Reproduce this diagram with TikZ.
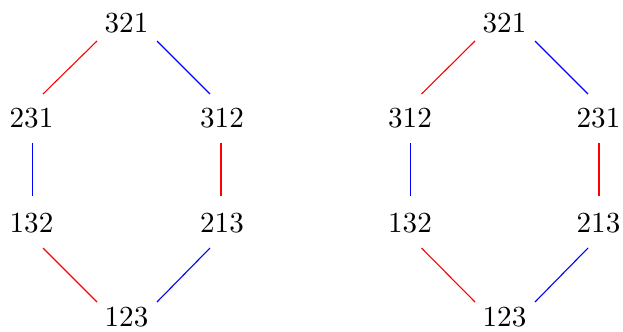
\documentclass[tikz,border=0pt]{standalone}
\usetikzlibrary{calc}
\begin{document}
\begin{tikzpicture}[x=1bp,y=-1bp,
  lbl/.style={inner sep=0pt, font=\fontsize{10}{12}\selectfont, scale=2.92},
  redge/.style={draw=red, line width=1.1bp},
  bedge/.style={draw=blue, line width=1.1bp}]
\useasboundingbox (0,0) rectangle (623,331);

% left hexagon
\node[lbl] (a321) at (126.5,23.5) {321};
\node[lbl] (a231) at (31.5,118) {231};
\node[lbl] (a312) at (222,118) {312};
\node[lbl] (a132) at (31.5,223) {132};
\node[lbl] (a213) at (222,223) {213};
\node[lbl] (a123) at (126.5,317.5) {123};

\draw[redge] ($(a321)+(-29.5,17.5)$) -- ($(a231)+(11.5,-24)$);
\draw[bedge] ($(a321)+(30.5,17.5)$) -- ($(a312)+(-12,-24)$);
\draw[bedge] ($(a231)+(1,25)$) -- ($(a132)+(1,-27)$);
\draw[redge] ($(a312)+(-1,25)$) -- ($(a213)+(-1,-27)$);
\draw[redge] ($(a132)+(11.5,25)$) -- ($(a123)+(-29.5,-15.5)$);
\draw[bedge] ($(a213)+(-12,25)$) -- ($(a123)+(30.5,-15.5)$);

% right hexagon
\node[lbl] (b321) at (504.5,23.5) {321};
\node[lbl] (b312) at (410,118) {312};
\node[lbl] (b231) at (598.5,118) {231};
\node[lbl] (b132) at (410,223) {132};
\node[lbl] (b213) at (598.5,223) {213};
\node[lbl] (b123) at (504.5,317.5) {123};

\draw[redge] ($(b321)+(-29.5,17.5)$) -- ($(b312)+(11.5,-24)$);
\draw[bedge] ($(b321)+(30.5,17.5)$) -- ($(b231)+(-10.5,-24)$);
\draw[bedge] ($(b312)+(0.5,25)$) -- ($(b132)+(0.5,-27)$);
\draw[redge] ($(b231)+(0.5,25)$) -- ($(b213)+(0.5,-27)$);
\draw[redge] ($(b132)+(11.5,25)$) -- ($(b123)+(-29.5,-15.5)$);
\draw[bedge] ($(b213)+(-10.5,25)$) -- ($(b123)+(30.5,-15.5)$);
\end{tikzpicture}
\end{document}
